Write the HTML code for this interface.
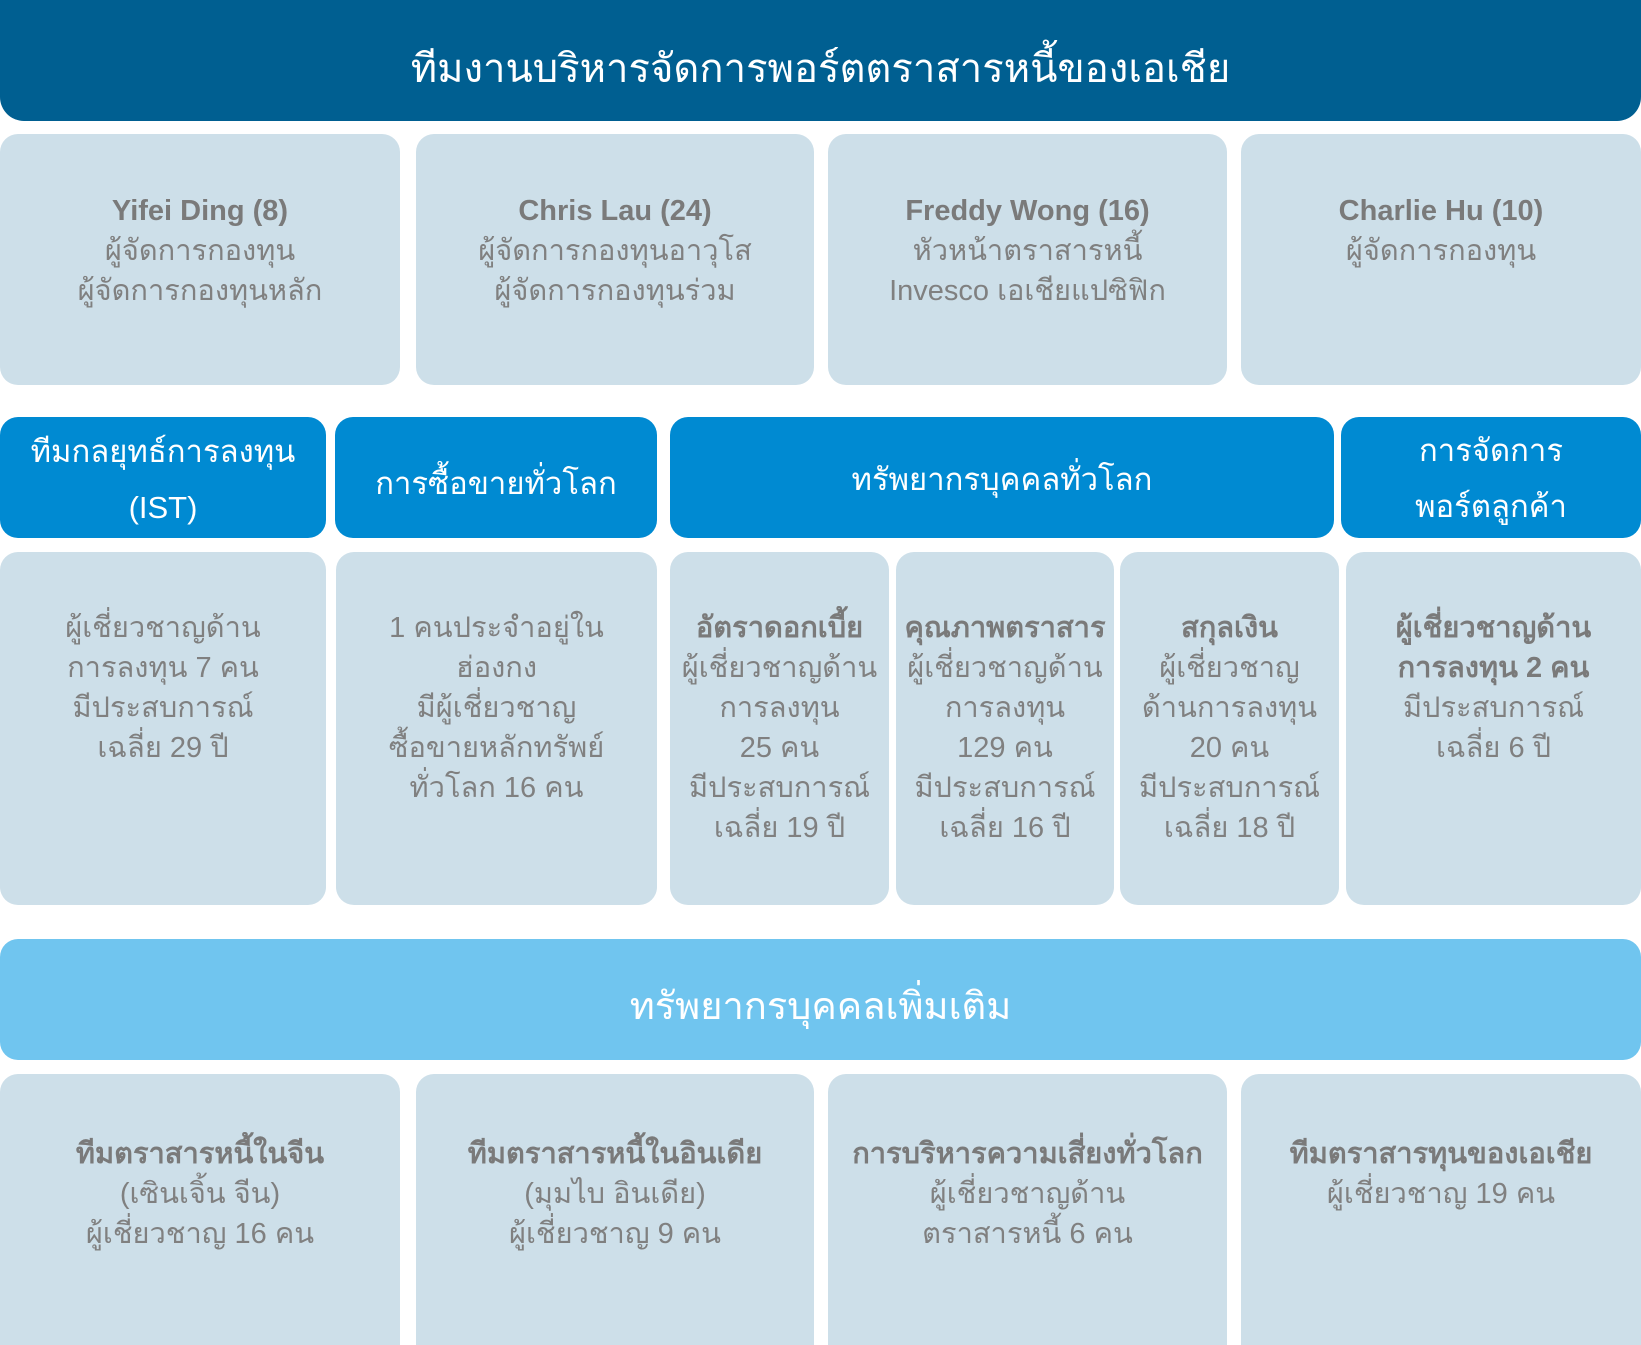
<!DOCTYPE html>
<html><head><meta charset="utf-8"><style>
body{margin:0;width:1641px;height:1345px;background:#fff;position:relative;overflow:hidden;font-family:"Liberation Sans","DejaVu Sans",sans-serif}
.b{position:absolute;border-radius:18px;box-sizing:border-box;display:flex;align-items:center;justify-content:center;text-align:center;color:#fff}
.c{position:absolute;border-radius:18px;background:#cddfe9;box-sizing:border-box;text-align:center;color:#808080;font-size:29px;line-height:40px}
.c b{color:#7a7a7a}
</style></head><body>
<div class="b" style="left:0;top:0;width:1641px;height:121px;background:#005f91;font-size:40px;border-radius:0 0 24px 24px;padding-top:14px">ทีมงานบริหารจัดการพอร์ตตราสารหนี้ของเอเชีย</div>

<div class="c" style="left:0;top:134px;width:400px;height:251px;padding-top:57px"><b>Yifei Ding (8)</b><br>ผู้จัดการกองทุน<br>ผู้จัดการกองทุนหลัก</div>
<div class="c" style="left:416px;top:134px;width:398px;height:251px;padding-top:57px"><b>Chris Lau (24)</b><br>ผู้จัดการกองทุนอาวุโส<br>ผู้จัดการกองทุนร่วม</div>
<div class="c" style="left:828px;top:134px;width:399px;height:251px;padding-top:57px"><b>Freddy Wong (16)</b><br>หัวหน้าตราสารหนี้<br>Invesco เอเชียแปซิฟิก</div>
<div class="c" style="left:1241px;top:134px;width:400px;height:251px;padding-top:57px"><b>Charlie Hu (10)</b><br>ผู้จัดการกองทุน</div>

<div class="b" style="left:0;top:417px;width:326px;height:121px;background:#008ad2;font-size:31px;line-height:56px;padding-top:4px">ทีมกลยุทธ์การลงทุน<br>(IST)</div>
<div class="b" style="left:335px;top:417px;width:322px;height:121px;background:#008ad2;font-size:31px;padding-top:10px">การซื้อขายทั่วโลก</div>
<div class="b" style="left:670px;top:417px;width:664px;height:121px;background:#008ad2;font-size:31px;padding-top:2px">ทรัพยากรบุคคลทั่วโลก</div>
<div class="b" style="left:1341px;top:417px;width:300px;height:121px;background:#008ad2;font-size:31px;line-height:56px;padding-top:2px">การจัดการ<br>พอร์ตลูกค้า</div>

<div class="c" style="left:0;top:552px;width:326px;height:353px;padding-top:56px">ผู้เชี่ยวชาญด้าน<br>การลงทุน 7 คน<br>มีประสบการณ์<br>เฉลี่ย  29 ปี</div>
<div class="c" style="left:336px;top:552px;width:321px;height:353px;padding-top:56px">1 คนประจำอยู่ใน<br>ฮ่องกง<br>มีผู้เชี่ยวชาญ<br>ซื้อขายหลักทรัพย์<br>ทั่วโลก 16 คน</div>
<div class="c" style="left:670px;top:552px;width:219px;height:353px;padding-top:56px"><b>อัตราดอกเบี้ย</b><br>ผู้เชี่ยวชาญด้าน<br>การลงทุน<br>25 คน<br>มีประสบการณ์<br>เฉลี่ย 19 ปี</div>
<div class="c" style="left:896px;top:552px;width:218px;height:353px;padding-top:56px"><b>คุณภาพตราสาร</b><br>ผู้เชี่ยวชาญด้าน<br>การลงทุน<br>129 คน<br>มีประสบการณ์<br>เฉลี่ย 16 ปี</div>
<div class="c" style="left:1120px;top:552px;width:219px;height:353px;padding-top:56px"><b>สกุลเงิน</b><br>ผู้เชี่ยวชาญ<br>ด้านการลงทุน<br>20 คน<br>มีประสบการณ์<br>เฉลี่ย 18 ปี</div>
<div class="c" style="left:1346px;top:552px;width:295px;height:353px;padding-top:56px"><b>ผู้เชี่ยวชาญด้าน<br>การลงทุน 2 คน</b><br>มีประสบการณ์<br>เฉลี่ย 6 ปี</div>

<div class="b" style="left:0;top:939px;width:1641px;height:121px;background:#70c5ef;font-size:38px;padding-top:12px">ทรัพยากรบุคคลเพิ่มเติม</div>

<div class="c" style="left:0;top:1074px;width:400px;height:271px;padding-top:60px;border-radius:18px 18px 0 0"><b>ทีมตราสารหนี้ในจีน</b><br>(เซินเจิ้น จีน)<br>ผู้เชี่ยวชาญ 16 คน</div>
<div class="c" style="left:416px;top:1074px;width:398px;height:271px;padding-top:60px;border-radius:18px 18px 0 0"><b>ทีมตราสารหนี้ในอินเดีย</b><br>(มุมไบ อินเดีย)<br>ผู้เชี่ยวชาญ 9 คน</div>
<div class="c" style="left:828px;top:1074px;width:399px;height:271px;padding-top:60px;border-radius:18px 18px 0 0"><b>การบริหารความเสี่ยงทั่วโลก</b><br>ผู้เชี่ยวชาญด้าน<br>ตราสารหนี้ 6 คน</div>
<div class="c" style="left:1241px;top:1074px;width:400px;height:271px;padding-top:60px;border-radius:18px 18px 0 0"><b>ทีมตราสารทุนของเอเชีย</b><br>ผู้เชี่ยวชาญ 19 คน</div>
</body></html>
